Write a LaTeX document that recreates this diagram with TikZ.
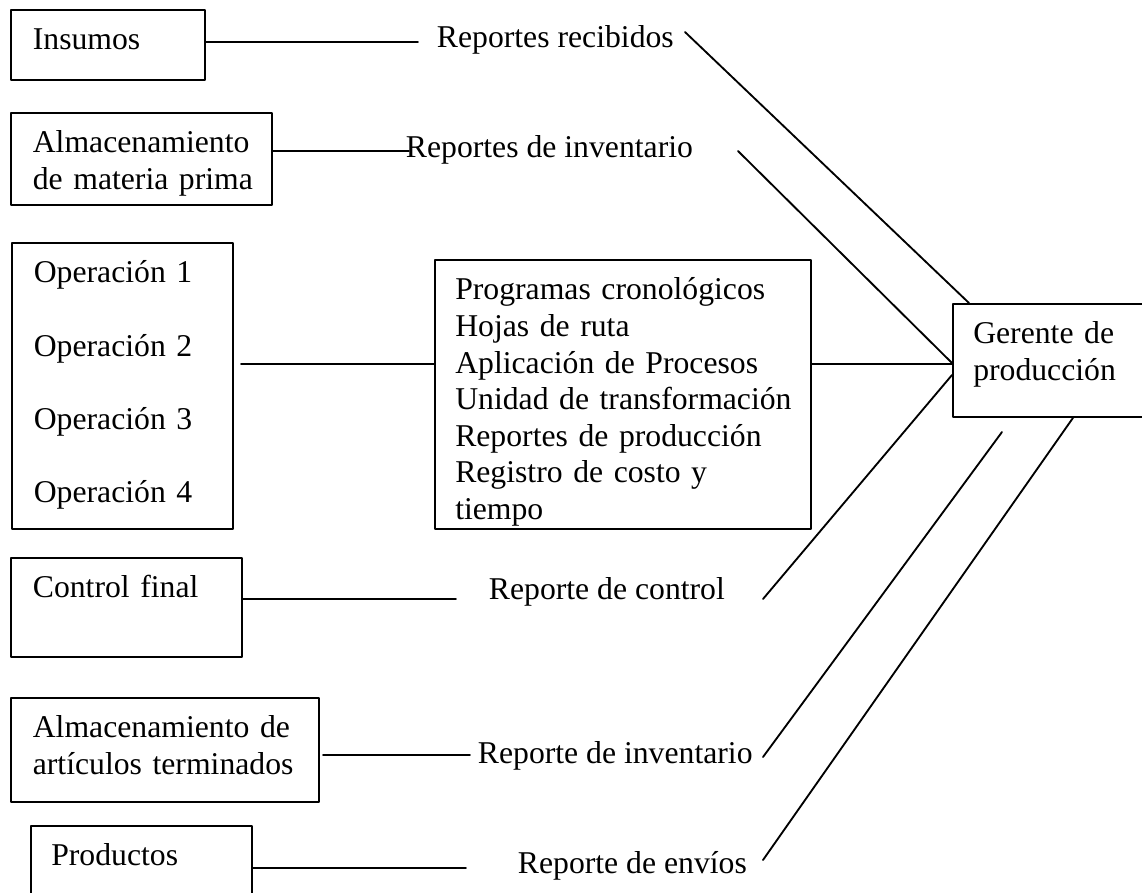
\documentclass[tikz,border=0pt]{standalone}
\usepackage{fontspec}
\setmainfont{Liberation Serif}
\newcommand{\unitpx}{0.3785pt}

\begin{document}
\begin{tikzpicture}[line cap=round,line join=round,x=0.3785pt,y=-0.3785pt,line width=0.7pt,
  caja/.style={draw,rectangle,anchor=north west,align=left,inner sep=0pt,
    text height=40*\unitpx,font=\fontsize{12}{13.85}\selectfont,
    execute at begin node={\leftskip=8.3pt\hyphenpenalty=10000}},
  cajaestrecha/.style={caja,execute at begin node={\leftskip=7.7pt\hyphenpenalty=10000}},
  reporte/.style={anchor=base west,inner sep=0pt,font=\fontsize{12}{13.85}\selectfont}]
\useasboundingbox (0,0) rectangle (1142,892);
\clip (0,0) rectangle (1142,892);
\node [caja,text width=194*\unitpx,text depth=30*\unitpx] (insumos) at (10,9) {Insumos};
\node [caja,text width=261*\unitpx,text depth=52*\unitpx] (almacen) at (10,112) {Almacenamiento\\de materia prima};
\node [caja,text width=221*\unitpx,text depth=246*\unitpx,font=\fontsize{12}{27.7}\selectfont] (operaciones) at (11,242)
  {Operación 1\\Operación 2\\Operación 3\\Operación 4};
\node [cajaestrecha,text width=376*\unitpx,text depth=229*\unitpx] (programas) at (434,259)
  {Programas cronológicos\\Hojas de ruta\\Aplicación de Procesos\\Unidad de transformación\\Reportes de producción\\Registro de costo y\\tiempo};
\node [caja,text width=231*\unitpx,text depth=59*\unitpx] (control) at (10,557) {Control final};
\node [caja,text width=308*\unitpx,text depth=64*\unitpx] (almart) at (10,697) {Almacenamiento de\\artículos terminados};
\node [cajaestrecha,text width=221*\unitpx,text depth=60*\unitpx] (productos) at (30,825) {Productos};
\node [cajaestrecha,text width=200*\unitpx,text depth=73*\unitpx] (gerente) at (952,303) {Gerente de\\producción};
% reportes
\node [reporte] (recibidos) at (436,47) {Reportes recibidos};
\node [reporte] (invmat) at (405,157) {Reportes de inventario};
\node [reporte] (repcontrol) at (488,599) {Reporte de control};
\node [reporte] (invart) at (477,763) {Reporte de inventario};
\node [reporte] (envios) at (517,873) {Reporte de envíos};
\coordinate (l1) at (418,42);
\coordinate (l2) at (409,151);
\coordinate (l3) at (241,364);
\coordinate (l5) at (456,599);
\coordinate (l6a) at (323,755);
\coordinate (l6b) at (470,755);
\coordinate (l7) at (466,868);
\draw (insumos.east |- l1) -- (l1);
\draw (almacen.east |- l2) -- (l2);
\draw (l3) -- (programas.west |- l3);
\draw (programas.east |- l3) -- (gerente.west |- l3);
\draw (control.east |- l5) -- (l5);
\draw (l6a) -- (l6b);
\draw (productos.east |- l7) -- (l7);
% lineas al gerente
\coordinate (d1) at (685,32);
\coordinate (d2) at (738,151);
\coordinate (d3) at (763,599);
\coordinate (d4a) at (1002,432);
\coordinate (d4b) at (763,757);
\coordinate (d5) at (763,860);
\draw (d1) -- (gerente.north west -| 969,0);
\draw (d2) -- (gerente.west |- 0,363);
\draw (d3) -- (gerente.west |- 0,375);
\draw (d4a) -- (d4b);
\draw (d5) -- (gerente.south west -| 1073,0);
\end{tikzpicture}
\end{document}
